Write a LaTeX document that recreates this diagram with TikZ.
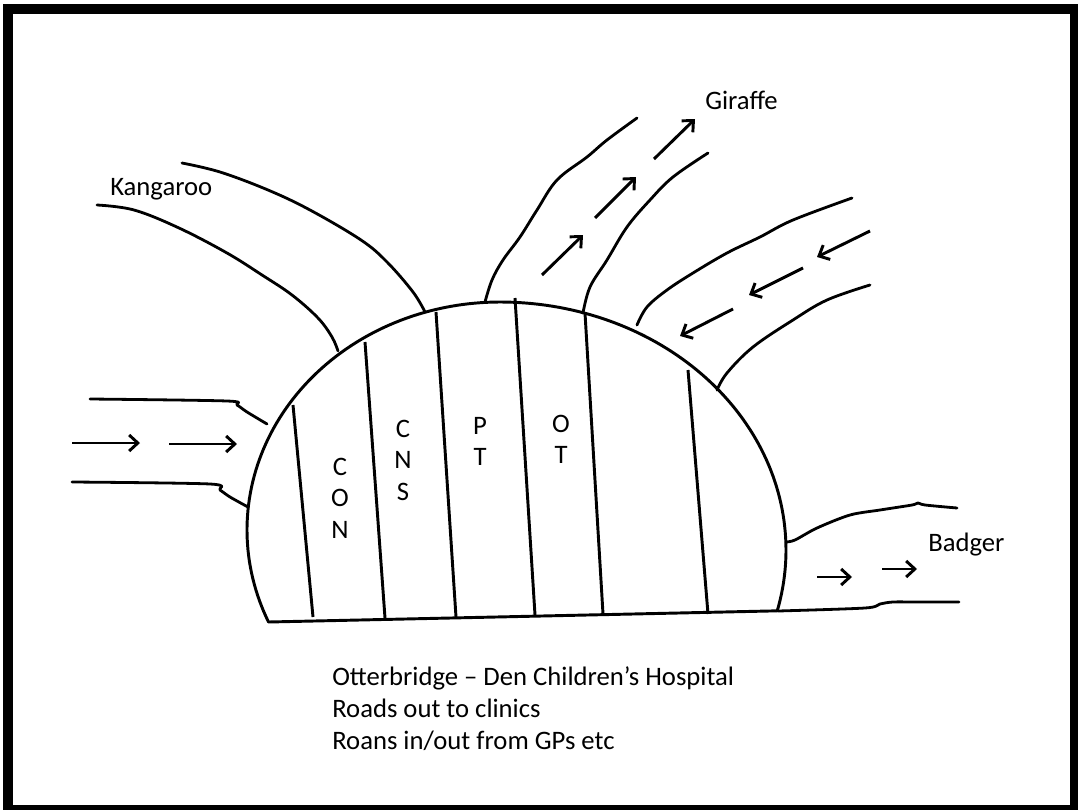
\documentclass[tikz,border=0pt]{standalone}
\usepackage{fontspec}
\setmainfont{Carlito}
\usetikzlibrary{arrows.meta}
\begin{document}
\begin{tikzpicture}[x=0.75pt,y=-0.75pt,
  road/.style={line width=2.1pt, line cap=round, line join=round},
  wall/.style={line width=2.2pt, line join=round},
  flow/.style={line width=2.2pt, -{Straight Barb[length=6.5pt,width=12pt]}},
  lbl/.style={font=\fontsize{20}{23.5}\selectfont, inner sep=0pt},
  stack/.style={lbl, align=center, anchor=north}]
\useasboundingbox (0,0) rectangle (1078,810);
\clip (0,0) rectangle (1078,810);
% frame
\draw[line width=6.8pt] (8,9) rectangle (1075,810);

% hospital dome
\draw[wall] plot[domain=156.2:270, samples=80] ({500+253*cos(\x)}, {530+228*sin(\x)})
  -- plot[domain=270:374.2, samples=80] ({500+286*cos(\x)}, {550+248*sin(\x)})
  -- cycle;

% dividers
\draw[wall] (293,405) -- (313,617);
\draw[wall] (365,342) -- (385,618);
\draw[wall] (436,312) -- (456,617);
\draw[wall] (515,298) -- (535,615);
\draw[wall] (585,313) -- (603,614);
\draw[wall] (688,370) -- (708,614);

% left roads
\draw[road] plot[smooth, tension=0.5] coordinates {(90,399) (227,401) (237,405) (247,412) (267,424)};
\draw[road] plot[smooth, tension=0.5] coordinates {(72,482) (210,484) (220,490) (230,497) (248,507)};

% Kangaroo roads
\draw[road] plot[smooth, tension=0.6] coordinates {(182,163) (220,172) (268,190) (310,210) (361,240) (387,262) (413,292) (425,312)};
\draw[road] plot[smooth, tension=0.6] coordinates {(97,205) (134,210) (179,228) (227,253) (262,275) (292,295) (318,318) (332,337) (338,351)};

% Giraffe roads
\draw[road] plot[smooth, tension=0.6] coordinates {(485,302) (492,280) (503,260) (520,237) (537,210) (557,180) (587,157) (607,140) (637,118)};
\draw[road] plot[smooth, tension=0.6] coordinates {(583,313) (590,287) (607,260) (627,227) (650,200) (673,177) (708,153)};

% right roads
\draw[road] plot[smooth, tension=0.6] coordinates {(637,325) (647,307) (667,290) (693,273) (727,253) (760,237) (793,220) (852,198)};
\draw[road] plot[smooth, tension=0.6] coordinates {(717,390) (727,373) (753,347) (793,320) (827,300) (870,285)};

% Badger roads
\draw[road] plot[smooth, tension=0.5] coordinates {(786,542) (795,540) (817,528) (850,515) (880,510) (912,505) (918,503) (925,505) (957,508)};
\draw[road] plot[smooth, tension=0.5] coordinates {(778,611) (865,608) (880,604) (893,602) (917,602) (959,602)};

% arrow end points
\coordinate (la1) at (72,443);  \coordinate (lb1) at (140,443);
\coordinate (la2) at (169,444); \coordinate (lb2) at (237,444);
\coordinate (ga1) at (542,275); \coordinate (gb1) at (583,235);
\coordinate (ga2) at (595,218); \coordinate (gb2) at (636,177);
\coordinate (ga3) at (654,159); \coordinate (gb3) at (695,119);
\coordinate (ra1) at (870,231); \coordinate (rb1) at (817,257);
\coordinate (ra2) at (803,268); \coordinate (rb2) at (749,295);
\coordinate (ra3) at (733,309); \coordinate (rb3) at (680,336);
\coordinate (ba1) at (817,577); \coordinate (bb1) at (852,577);
\coordinate (ba2) at (882,569); \coordinate (bb2) at (917,569);

\draw[flow] (la1) -- (lb1);
\draw[flow] (la2) -- (lb2);
\draw[flow] (ga1) -- (gb1);
\draw[flow] (ga2) -- (gb2);
\draw[flow] (ga3) -- (gb3);
\draw[flow] (ra1) -- (rb1);
\draw[flow] (ra2) -- (rb2);
\draw[flow] (ra3) -- (rb3);
\draw[flow] (ba1) -- (bb1);
\draw[flow] (ba2) -- (bb2);

% labels
\node[lbl, anchor=base west] (kangaroo) at (110,195) {Kangaroo};
\node[lbl, anchor=base west] (giraffe) at (705,109) {Giraffe};
\node[lbl, anchor=base west] (badger) at (928,551) {Badger};
\node[stack] (con) at (340,458) {C\\O\\N};
\node[stack] (cns) at (403,420) {C\\N\\S};
\node[stack] (pt) at (480,417) {P\\T};
\node[stack] (ot) at (561,415) {O\\T};
\node[lbl, align=left, anchor=north west, font=\fontsize{20}{24}\selectfont] (caption) at (332,666) {Otterbridge – Den Children’s Hospital\\Roads out to clinics\\Roans in/out from GPs etc};
\end{tikzpicture}
\end{document}
